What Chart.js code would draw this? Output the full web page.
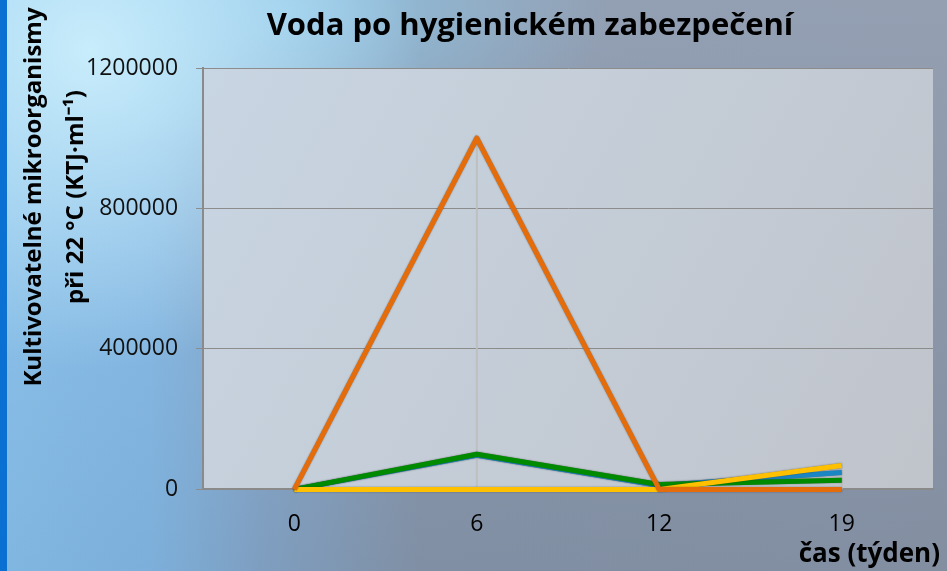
<!DOCTYPE html>
<html>
<head>
<meta charset="utf-8">
<script src="https://cdn.jsdelivr.net/npm/chart.js@4.4.0/dist/chart.umd.min.js"></script>
<style>
  html, body { margin: 0; padding: 0; }
  body {
    width: 947px; height: 571px; overflow: hidden; position: relative;
    background:
      linear-gradient(to right, #0a70d2 0px, #0a70d2 7px, transparent 7px),
      radial-gradient(ellipse 330px 320px at 90px 50px, rgba(205,240,252,0.92), rgba(205,240,252,0) 100%),
      radial-gradient(ellipse 320px 150px at 290px 10px, rgba(145,210,245,0.7), rgba(145,210,245,0) 100%),
      linear-gradient(to bottom, rgba(255,255,255,0.08), rgba(0,0,0,0.06)),
      linear-gradient(to right, #88c2ee 0px, #84bae8 150px, #86a8cc 260px, #8898ae 420px, #8b97ab 947px);
  }
  #wrap { position: absolute; left: 0; top: 0; width: 947px; height: 571px; }
</style>
</head>
<body>
<div id="wrap"><canvas id="c" width="947" height="571"></canvas></div>
<script>
const categories = ["0", "6", "12", "19"];
const seriesOrange = [0, 1000000, 0, 0];
const seriesYellow = [0, 0, 0, 68000];
const seriesGreen = [0, 100000, 14000, 26000];
const seriesBlue = [0, 97000, 11000, 48000];
const yTicks = [0, 400000, 800000, 1200000];
const chartTitle = 'Voda po hygienickém zabezpečení';
const yTitleLines = ['Kultivovatelné mikroorganismy', 'při 22 °C (KTJ·ml⁻¹)'];
const xTitle = 'čas (týden)';

const plotBg = {
  id: 'plotBg',
  beforeDraw(chart) {
    const {ctx, chartArea: a} = chart;
    ctx.save();
    const g = ctx.createLinearGradient(a.left, a.top, a.right, a.bottom);
    g.addColorStop(0, '#c8d5e2');
    g.addColorStop(1, '#c0c4cb');
    ctx.fillStyle = g;
    ctx.fillRect(a.left, a.top, a.right - a.left, a.bottom - a.top);
    ctx.restore();
  },
  beforeDatasetsDraw(chart) {
    const {ctx} = chart;
    const x = chart.scales.x, y = chart.scales.y;
    const all = [seriesOrange, seriesYellow, seriesGreen, seriesBlue];
    ctx.save();
    ctx.strokeStyle = 'rgba(190,190,190,0.95)';
    ctx.lineWidth = 2;
    categories.forEach((c, i) => {
      const mx = Math.max(...all.map(s => s[i]));
      const px = x.getPixelForValue(i);
      ctx.beginPath();
      ctx.moveTo(px, y.getPixelForValue(mx));
      ctx.lineTo(px, y.getPixelForValue(0));
      ctx.stroke();
    });
    ctx.restore();
  },
  beforeDatasetDraw(chart) {
    chart.ctx.save();
    chart.ctx.shadowColor = 'rgba(40,40,40,0.6)';
    chart.ctx.shadowBlur = 1.5;
  },
  afterDatasetDraw(chart) {
    chart.ctx.restore();
  },
  afterDraw(chart) {
    const {ctx} = chart;
    ctx.save();
    ctx.fillStyle = '#000';
    ctx.textBaseline = 'alphabetic';
    ctx.textAlign = 'center';
    ctx.font = 'bold 31px "Open Sans"';
    ctx.fillText(chartTitle, 530, 35);
    ctx.font = 'bold 26px "Open Sans"';
    ctx.textAlign = 'right';
    ctx.fillText(xTitle, 940, 562);
    ctx.translate(0, 197);
    ctx.rotate(-Math.PI / 2);
    ctx.textAlign = 'center';
    ctx.font = 'bold 24px "Open Sans"';
    ctx.fillText(yTitleLines[0], 0, 41);
    ctx.fillText(yTitleLines[1], 0, 83);
    ctx.restore();
  }
};

const mk = (label, data, color) => ({
  label, data, borderColor: color, backgroundColor: color,
  borderWidth: 5, pointRadius: 0, tension: 0, fill: false, clip: false,
  borderJoinStyle: 'round', borderCapStyle: 'butt'
});

new Chart(document.getElementById('c'), {
  type: 'line',
  data: {
    labels: categories,
    datasets: [
      mk('oranžová', seriesOrange, '#e46c0a'),
      mk('žlutá', seriesYellow, '#ffc000'),
      mk('zelená', seriesGreen, '#008a00'),
      mk('modrá', seriesBlue, '#1a87c4')
    ]
  },
  options: {
    responsive: false,
    animation: false,
    layout: { padding: { left: 68, right: 14, top: 68, bottom: 12 } },
    plugins: {
      legend: { display: false },
      tooltip: { enabled: false },
      title: { display: false }
    },
    scales: {
      x: {
        offset: true,
        grid: { display: false, drawTicks: false },
        border: { color: '#8a8a8a', width: 2 },
        ticks: { color: '#000', font: { family: '"Open Sans"', size: 23 }, padding: 21 }
      },
      y: {
        min: 0, max: 1200000,
        afterBuildTicks(scale) { scale.ticks = yTicks.map(v => ({ value: v })); },
        grid: { color: '#8c8c8c', lineWidth: 1, tickLength: 7, tickColor: '#8c8c8c' },
        border: { color: '#8a8a8a', width: 2 },
        ticks: { color: '#111', font: { family: '"Open Sans"', size: 23 }, padding: 18,
                 callback: v => String(v) }
      }
    }
  },
  plugins: [plotBg]
});
</script>
</body>
</html>
